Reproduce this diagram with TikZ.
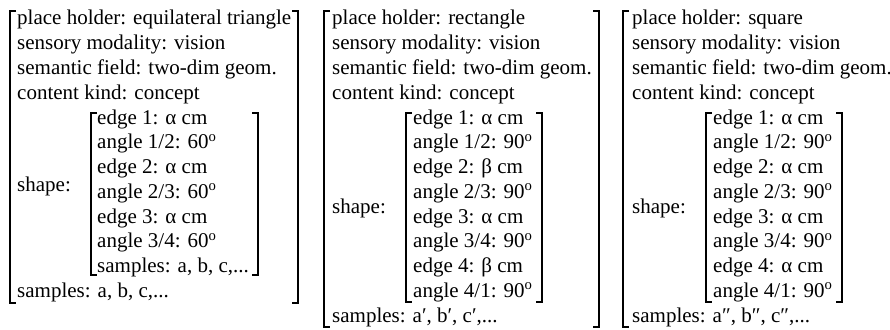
\documentclass[tikz,border=0pt]{standalone}
\usepackage{fontspec}
\setmainfont{Liberation Serif}
\begin{document}
\begin{tikzpicture}[x=1pt,y=-1pt,
  txt/.style={anchor=base west,inner sep=0pt,font=\fontsize{21}{24}\selectfont},
  brk/.style={line width=1.2pt,line cap=butt}]
\useasboundingbox (0,0) rectangle (890,329);
\def\rowy#1{25+(#1-1)*24.75}
% ---------- Panel 1 ----------
\node[txt] (a1) at (17,{\rowy{1}}) {place holder: equilateral triangle};
\node[txt] (a2) at (17,{\rowy{2}}) {sensory modality: vision};
\node[txt] (a3) at (17,{\rowy{3}}) {semantic field: two-dim geom.};
\node[txt] (a4) at (17,{\rowy{4}}) {content kind: concept};
\node[txt] (as) at (17,191.5) {shape:};
\node[txt] (a5) at (97,{\rowy{5}}) {edge 1: α cm};
\node[txt] (a6) at (97,{\rowy{6}}) {angle 1/2: 60\textsuperscript{o}};
\node[txt] (a7) at (97,{\rowy{7}}) {edge 2: α cm};
\node[txt] (a8) at (97,{\rowy{8}}) {angle 2/3: 60\textsuperscript{o}};
\node[txt] (a9) at (97,{\rowy{9}}) {edge 3: α cm};
\node[txt] (a10) at (97,{\rowy{10}}) {angle 3/4: 60\textsuperscript{o}};
\node[txt] (a11) at (97,{\rowy{11}}) {samples: a, b, c,...};
\node[txt] (a12) at (17,{\rowy{12}}) {samples: a, b, c,...};
% brackets panel 1
\draw[brk] (16,11) -- (10,11) -- (10,303) -- (16,303);
\draw[brk] (292,11) -- (298,11) -- (298,303) -- (292,303);
\draw[brk] (97,113) -- (91,113) -- (91,275) -- (97,275);
\draw[brk] (252,113) -- (258,113) -- (258,275) -- (252,275);
% ---------- Panel 2 ----------
\node[txt] (b1) at (332,{\rowy{1}}) {place holder: rectangle};
\node[txt] (b2) at (332,{\rowy{2}}) {sensory modality: vision};
\node[txt] (b3) at (332,{\rowy{3}}) {semantic field: two-dim geom.};
\node[txt] (b4) at (332,{\rowy{4}}) {content kind: concept};
\node[txt] (bs) at (332,213.5) {shape:};
\node[txt] (b5) at (413,{\rowy{5}}) {edge 1: α cm};
\node[txt] (b6) at (413,{\rowy{6}}) {angle 1/2: 90\textsuperscript{o}};
\node[txt] (b7) at (413,{\rowy{7}}) {edge 2: β cm};
\node[txt] (b8) at (413,{\rowy{8}}) {angle 2/3: 90\textsuperscript{o}};
\node[txt] (b9) at (413,{\rowy{9}}) {edge 3: α cm};
\node[txt] (b10) at (413,{\rowy{10}}) {angle 3/4: 90\textsuperscript{o}};
\node[txt] (b11) at (413,{\rowy{11}}) {edge 4: β cm};
\node[txt] (b12) at (413,{\rowy{12}}) {angle 4/1: 90\textsuperscript{o}};
\node[txt] (b13) at (332,{\rowy{13}}) {samples: a′, b′, c′,...};
% brackets panel 2
\draw[brk] (330,11) -- (324,11) -- (324,327) -- (330,327);
\draw[brk] (593,11) -- (599,11) -- (599,327) -- (593,327);
\draw[brk] (412,113) -- (406,113) -- (406,302) -- (412,302);
\draw[brk] (536,113) -- (542,113) -- (542,302) -- (536,302);
% ---------- Panel 3 ----------
\node[txt] (c1) at (632,{\rowy{1}}) {place holder: square};
\node[txt] (c2) at (632,{\rowy{2}}) {sensory modality: vision};
\node[txt] (c3) at (632,{\rowy{3}}) {semantic field: two-dim geom.};
\node[txt] (c4) at (632,{\rowy{4}}) {content kind: concept};
\node[txt] (cs) at (632,213.5) {shape:};
\node[txt] (c5) at (713,{\rowy{5}}) {edge 1: α cm};
\node[txt] (c6) at (713,{\rowy{6}}) {angle 1/2: 90\textsuperscript{o}};
\node[txt] (c7) at (713,{\rowy{7}}) {edge 2: α cm};
\node[txt] (c8) at (713,{\rowy{8}}) {angle 2/3: 90\textsuperscript{o}};
\node[txt] (c9) at (713,{\rowy{9}}) {edge 3: α cm};
\node[txt] (c10) at (713,{\rowy{10}}) {angle 3/4: 90\textsuperscript{o}};
\node[txt] (c11) at (713,{\rowy{11}}) {edge 4: α cm};
\node[txt] (c12) at (713,{\rowy{12}}) {angle 4/1: 90\textsuperscript{o}};
\node[txt] (c13) at (632,{\rowy{13}}) {samples: a″, b″, c″,...};
% brackets panel 3
\draw[brk] (629,11) -- (623,11) -- (623,327) -- (629,327);
\draw[brk] (712,113) -- (706,113) -- (706,302) -- (712,302);
\draw[brk] (836,113) -- (842,113) -- (842,302) -- (836,302);
\end{tikzpicture}
\end{document}
